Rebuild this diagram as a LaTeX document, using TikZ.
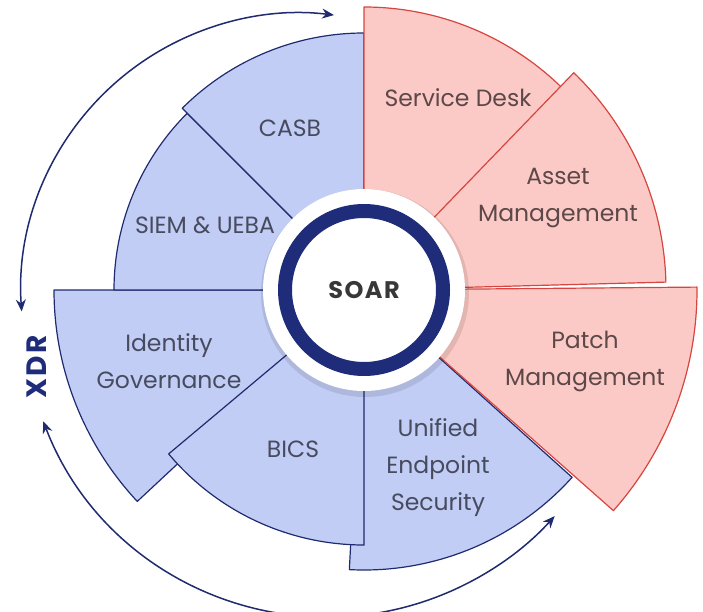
\documentclass[tikz,border=0pt]{standalone}
\usepackage{fontspec}
\setmainfont{Poppins}
\usetikzlibrary{arrows.meta}
\definecolor{bluefill}{HTML}{C2CDF6}
\definecolor{navy}{HTML}{1F2B6E}
\definecolor{ringnavy}{HTML}{1E2C7A}
\definecolor{redfill}{HTML}{FCCAC6}
\definecolor{redline}{HTML}{D6453F}
\definecolor{bluetext}{HTML}{474B5E}
\definecolor{redtext}{HTML}{5C4848}
\newcommand\sectorpath[3]{(C) -- ++(#1:#3) arc[start angle=#1,end angle=#2,radius=#3] -- cycle}
\begin{document}
\begin{tikzpicture}[x=1pt,y=1pt,
  bluesec/.style={fill=bluefill,draw=navy,line width=1.2pt,line join=round},
  redsec/.style={fill=redfill,draw=redline,line width=1.2pt,line join=round},
  shadowsec/.style={fill=black,opacity=0.07},
  bluelabel/.style={text=bluetext,align=center,font=\fontsize{23.5}{37}\selectfont},
  redlabel/.style={text=redtext,align=center,font=\fontsize{23.5}{37}\selectfont},
  cyclearrow/.style={draw=navy,line width=1.5pt,{Stealth[length=12pt,width=10pt]}-{Stealth[length=12pt,width=10pt]}}]
\useasboundingbox (0,0) rectangle (703,611);
\coordinate (C) at (364,321);
% sectors: shadows then fills
\newcommand\sector[4]{%
  \fill[shadowsec,shift={(2,-3)}] \sectorpath{#1}{#2}{#3};
  \path[#4] \sectorpath{#1}{#2}{#3};}
\sector{180}{223}{310}{bluesec}
\sector{135}{180}{250}{bluesec}
\sector{90}{135}{257}{bluesec}
\sector{267}{318}{280}{bluesec}
\sector{220}{270}{255}{bluesec}
\sector{318.5}{360.5}{333}{redsec}
\sector{45}{90}{283}{redsec}
\sector{1.5}{46}{302}{redsec}
% labels
\node[redlabel] (sd) at (458,513) {Service Desk};
\node[redlabel] (am) at (558,413) {Asset\\Management};
\node[redlabel] (pm) at (585,250) {Patch\\Management};
\node[bluelabel] (casb) at (290,483) {CASB};
\node[bluelabel] (siem) at (205,386) {SIEM \& UEBA};
\node[bluelabel] (ig) at (169,250) {Identity\\Governance};
\node[bluelabel] (bics) at (293,162) {BICS};
\node[bluelabel] (ues) at (438,143) {Unified\\Endpoint\\Security};
% centre
\fill[black,opacity=0.10] ([shift={(1,-3)}]C) circle (104);
\fill[white] (C) circle (101);
\draw[ringnavy,line width=14pt] (C) circle (79);
\node[text=black!78,font=\fontsize{24}{26}\bfseries\selectfont] (soar) at (C) {S\kern1.5pt O\kern1.5pt A\kern1.5pt R};
% XDR cycle arrows
\coordinate (ta) at ({300+279*cos(184)},{319+279*sin(184)});
\coordinate (ba) at ({328+305*cos(201)},{299+305*sin(201)});
\draw[cyclearrow] (ta) arc[start angle=184,end angle=83,radius=279];
\draw[cyclearrow] (ba) arc[start angle=201,end angle=318,radius=305];
\node[text=ringnavy,rotate=90,font=\fontsize{28}{30}\bfseries\selectfont] (xdr) at (37,244) {X\kern2.5pt D\kern2.5pt R};
\end{tikzpicture}
\end{document}
